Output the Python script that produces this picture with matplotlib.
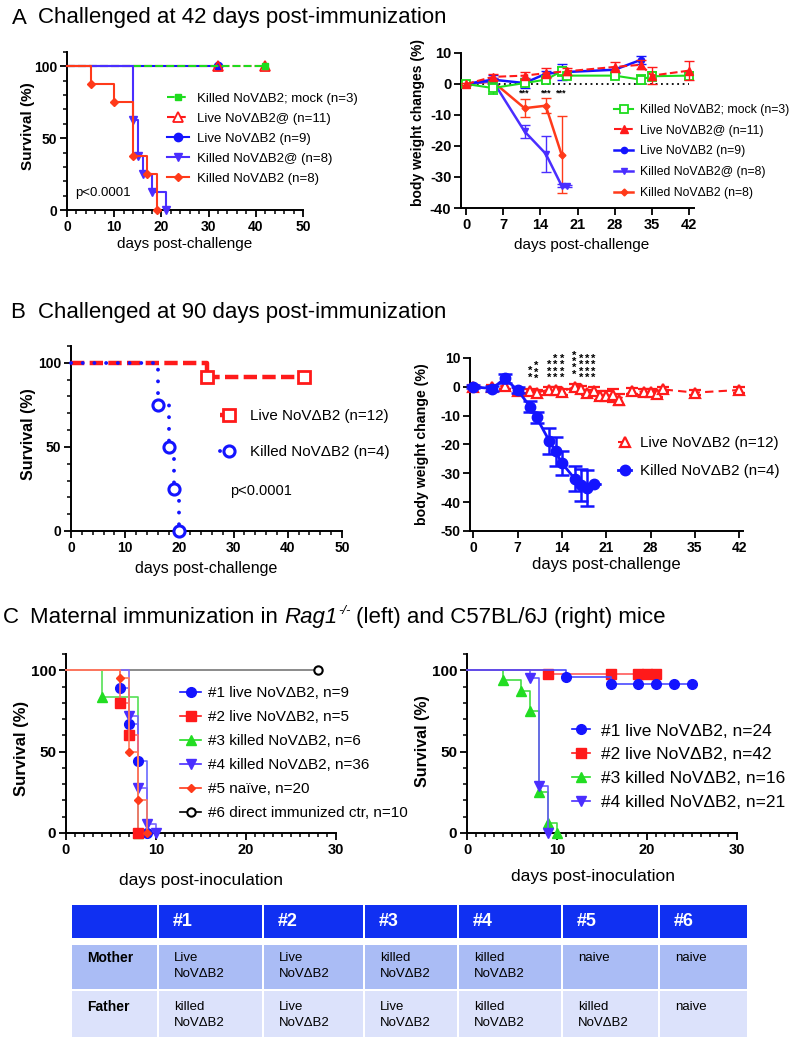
import matplotlib
matplotlib.use("Agg")
import matplotlib.pyplot as plt
from matplotlib import font_manager
from matplotlib.lines import Line2D
from matplotlib.patches import Rectangle
from matplotlib.ticker import MultipleLocator

_fonts = font_manager.fontManager.ttflist
_names = {f.name for f in _fonts}
SANS = "Liberation Sans" if "Liberation Sans" in _names else "DejaVu Sans"
NARROW = "Liberation Sans Narrow" if "Liberation Sans Narrow" in _names else None

plt.rcParams["font.family"] = [SANS, "DejaVu Sans"]
plt.rcParams["axes.unicode_minus"] = False

# ===================== DATA =====================
# Panel A (left): survival after challenge at 42 d post-immunization
a_labels = ["Killed NoVΔB2; mock (n=3)", "Live NoVΔB2@ (n=11)", "Live NoVΔB2 (n=9)",
            "Killed NoVΔB2@ (n=8)", "Killed NoVΔB2 (n=8)"]
a_mock_days = [0, 42];                 a_mock_surv = [100, 100]
a_liveat_days = [0, 32, 42];           a_liveat_surv = [100, 100, 100]
a_live_days = [0, 32];                 a_live_surv = [100, 100]
a_killat_days = [0, 14, 15, 16, 18, 21]; a_killat_surv = [100, 62.5, 37.5, 25, 12.5, 0]
a_kill_days = [0, 5, 10, 14, 17, 19];  a_kill_surv = [100, 87.5, 75, 37.5, 25, 0]

# Panel A (right): body weight changes (%)
aw_mock_days = [0, 5, 11, 15, 18, 19, 28, 33, 35, 42]
aw_mock = [0, -1.3, 0.3, 1.4, 4.1, 2.7, 2.7, 1.4, 2.5, 2.7]
aw_mock_err = [0.3, 2.0, 0.8, 1.0, 1.5, 0.8, 0.8, 1.5, 1.5, 1.2]
aw_liveat_days = [0, 5, 11, 15, 19, 28, 33, 35, 42]
aw_liveat = [0, 2.3, 2.7, 3.5, 4.1, 5.5, 6.2, 2.7, 4.3]
aw_liveat_err = [0.3, 1.0, 1.2, 1.5, 1.2, 1.5, 1.5, 2.7, 3.0]
aw_live_days = [0, 5, 11, 15, 18, 28, 33]
aw_live = [0, 1.4, 0.3, 3.3, 3.8, 4.6, 7.8]
aw_live_err = [0.3, 1.5, 1.5, 1.0, 2.6, 1.0, 1.2]
aw_killat_days = [0, 5, 11, 15, 18, 19]
aw_killat = [0, 1.0, -15.3, -22.5, -32.8, -32.8]
aw_killat_err = [0.3, 1.0, 2.2, 5.8, 0.5, 0.3]
aw_kill_days = [0, 5, 11, 15, 18]
aw_kill = [0, 0.8, -7.8, -7.0, -22.8]
aw_kill_err = [0.3, 1.0, 2.9, 2.4, 12.4]
aw_star_days = [11, 15, 18]
aw_star_level = -3.0

# Panel B (left): survival after challenge at 90 d post-immunization
b_labels = ["Live NoVΔB2 (n=12)", "Killed NoVΔB2 (n=4)"]
b_live_days = [0, 25, 43];            b_live_surv = [100, 91.7, 91.7]
b_kill_days = [0, 16, 18, 19, 20];    b_kill_surv = [100, 75, 50, 25, 0]

# Panel B (right): body weight change (%)
bw_live_days = [0, 3, 5, 7, 9, 10, 12, 13, 14, 16, 17, 18, 19, 20, 21, 22, 23, 25, 27, 28, 29, 30, 35, 42]
bw_live = [0, 0, 0.3, -1.4, -1.5, -2.0, -1.0, -1.2, -1.7, 0.0, -0.6, -2.0, -1.4, -3.1, -3.1, -2.9,
           -4.4, -1.5, -1.7, -1.7, -2.5, -0.9, -2.0, -1.1]
bw_live_err = [0.5, 0.8, 1.0, 1.0, 0.8, 1.0, 1.0, 1.0, 1.0, 1.0, 1.0, 1.0, 1.2, 1.5, 1.5, 2.3,
               2.0, 1.0, 1.0, 1.0, 1.0, 1.0, 1.0, 1.0]
bw_kill_days = [0, 3, 5, 7, 9, 10, 12, 13, 14, 16, 17, 18, 19]
bw_kill = [0, -0.6, 2.9, -1.1, -6.9, -10.6, -18.7, -22.4, -26.4, -31.8, -34.1, -35.2, -33.6]
bw_kill_err = [0.5, 0.8, 1.5, 1.0, 2.0, 2.0, 4.5, 5.0, 4.2, 4.5, 5.5, 6.3, 0.0]
bw_star_days = [9, 10, 12, 13, 14, 16, 17, 18, 19]
bw_star_count = [2, 3, 3, 4, 4, 4, 4, 4, 4]
bw_star_base = [1.5, 1.0, 1.3, 1.3, 1.3, 2.5, 1.3, 1.3, 1.3]

# Panel C (left): Rag1-/- pups
c1_labels = ["#1 live NoVΔB2, n=9", "#2 live NoVΔB2, n=5", "#3 killed NoVΔB2, n=6",
             "#4 killed NoVΔB2, n=36", "#5 naïve, n=20", "#6 direct immunized ctr, n=10"]
c1_g1_days = [0, 6, 7, 8, 9];       c1_g1_surv = [100, 88.9, 66.7, 44.4, 0]
c1_g2_days = [0, 6, 7, 8];          c1_g2_surv = [100, 80, 60, 0]
c1_g3_days = [0, 4, 8];             c1_g3_surv = [100, 83.3, 0]
c1_g4_days = [0, 7, 8, 9, 10];      c1_g4_surv = [100, 72.2, 27.8, 5.6, 0]
c1_g5_days = [0, 6, 7, 8, 9];       c1_g5_surv = [100, 95, 50, 20, 0]
c1_g6_days = [0, 28];               c1_g6_surv = [100, 100]

# Panel C (right): C57BL/6J pups
c2_labels = ["#1 live NoVΔB2, n=24", "#2 live NoVΔB2, n=42", "#3 killed NoVΔB2, n=16",
             "#4 killed NoVΔB2, n=21"]
c2_g1_days = [0, 11, 16, 19, 21, 23, 25]; c2_g1_surv = [100, 95.8, 91.7, 91.7, 91.7, 91.7, 91.7]
c2_g2_days = [0, 9, 16, 19, 20, 21];      c2_g2_surv = [100, 97.6, 97.6, 97.6, 97.6, 97.6]
c2_g3_days = [0, 4, 6, 7, 8, 9, 10];      c2_g3_surv = [100, 93.75, 87.5, 75, 25, 6.25, 0]
c2_g4_days = [0, 7, 8, 9];                c2_g4_surv = [100, 95.2, 28.6, 0]

# Table
tbl_header = ["", "#1", "#2", "#3", "#4", "#5", "#6"]
tbl_mother = ["Mother", "Live\nNoVΔB2", "Live\nNoVΔB2", "killed\nNoVΔB2", "killed\nNoVΔB2", "naive", "naive"]
tbl_father = ["Father", "killed\nNoVΔB2", "Live\nNoVΔB2", "Live\nNoVΔB2", "killed\nNoVΔB2", "killed\nNoVΔB2", "naive"]

# ===================== STYLE =====================
GREEN = "#1EDC1E"
RED = "#FF1A1A"
BLUE = "#1414FF"
PURPLE = "#4A2EFF"
ORED = "#FF3A1A"

W, H = 796, 1040
fig = plt.figure(figsize=(W / 100, H / 100), dpi=100)
fig.patch.set_facecolor("white")
renderer = fig.canvas.get_renderer()


def ax_px(l, t, r, b):
    return fig.add_axes([l / W, 1 - b / H, (r - l) / W, (b - t) / H])


def fx(x):
    return x / W


def fy(y):
    return 1 - y / H


def style(ax, xt, yt, xminor=None, yminor=None, fsx=10, fsy=10):
    for s in ("top", "right"):
        ax.spines[s].set_visible(False)
    for s in ("left", "bottom"):
        ax.spines[s].set_linewidth(1.4)
    ax.set_xticks(xt)
    ax.set_xticklabels([str(v) for v in xt], fontweight="bold", fontsize=fsx)
    ax.set_yticks(yt)
    ax.set_yticklabels([str(v) for v in yt], fontweight="bold", fontsize=fsy)
    if xminor:
        ax.xaxis.set_minor_locator(MultipleLocator(xminor))
    if yminor:
        ax.yaxis.set_minor_locator(MultipleLocator(yminor))
    ax.tick_params(which="major", direction="out", length=5, width=1.3, pad=2)
    ax.tick_params(which="minor", direction="out", length=3, width=1.1)
    ax.set_facecolor("none")


def km(ax, days, surv, color, ls="-", lw=1.5, marker="o", ms=5, mfc=None, mew=1.0,
       line_color=None, alpha=1.0, z=3, capround=False):
    ln, = ax.step(days, surv, where="post", color=line_color or color, ls=ls, lw=lw,
                  alpha=alpha, zorder=z, clip_on=False)
    if capround:
        ln.set_dash_capstyle("round")
    ax.plot(days[1:], surv[1:], ls="none", marker=marker, ms=ms, color=color,
            mfc=color if mfc is None else mfc, mew=mew, zorder=z + 0.5, clip_on=False)


def handle(color, ls="-", lw=1.5, marker="o", ms=5, mfc=None, mew=1.0, capround=False):
    h = Line2D([], [], color=color, ls=ls, lw=lw, marker=marker, ms=ms,
               mfc=color if mfc is None else mfc, mew=mew)
    if capround:
        h.set_dash_capstyle("round")
    return h


def _make_leg(ax, handles, labels, x, top, ls, fs, hl_px, text_x):
    fpx = fs * 100 / 72
    return ax.legend(handles, labels, loc="upper left",
                     bbox_to_anchor=(fx(x), fy(top)),
                     bbox_transform=fig.transFigure, frameon=False, borderpad=0,
                     borderaxespad=0, fontsize=fs, handlelength=hl_px / fpx,
                     handletextpad=(text_x - x - hl_px) / fpx, labelspacing=ls)


def _centers(leg):
    fig.canvas.draw()
    out = []
    for t in leg.get_texts():
        e = t.get_window_extent(renderer)
        out.append(H - (e.y0 + e.y1) / 2)
    return out


def legend_px(ax, handles, labels, x, y_first, pitch, fs, hl_px, text_x):
    """Legend whose rows sit at y_first, y_first+pitch, ... (figure pixels from top)."""
    fpx = fs * 100 / 72
    ls = max(pitch / fpx - 1.2, 0.05)
    top = y_first - 0.6 * fpx
    leg = _make_leg(ax, handles, labels, x, top, ls, fs, hl_px, text_x)
    c = _centers(leg)
    if len(c) > 1:
        pa = (c[-1] - c[0]) / (len(c) - 1)
        ls = max(ls + (pitch - pa) / fpx, 0.0)
        leg = _make_leg(ax, handles, labels, x, top, ls, fs, hl_px, text_x)
        c = _centers(leg)
    top += y_first - c[0]
    return _make_leg(ax, handles, labels, x, top, ls, fs, hl_px, text_x)


def ylab(x, y, s, fs):
    fig.text(fx(x), fy(y), s, rotation=90, ha="center", va="center", fontsize=fs, fontweight="bold")


def xlab(x, y, s, fs):
    fig.text(fx(x), fy(y), s, ha="center", va="center", fontsize=fs)


# ===================== TITLES =====================
fig.text(fx(12), fy(23.5), "A", fontsize=16, va="baseline")
fig.text(fx(38), fy(23.5), "Challenged at 42 days post-immunization", fontsize=16, va="baseline")
fig.text(fx(10), fy(318), "B", fontsize=16, va="baseline")
fig.text(fx(38), fy(318), "Challenged at 90 days post-immunization", fontsize=16, va="baseline")
fig.text(fx(3), fy(623), "C", fontsize=16, va="baseline")
t1 = fig.text(fx(30), fy(623), "Maternal immunization in", fontsize=16, va="baseline")
x_next = t1.get_window_extent(renderer).x1 + 6
t2 = fig.text(x_next / W, fy(623), "Rag1", fontsize=16, style="italic", va="baseline")
x_next = t2.get_window_extent(renderer).x1 + 1
t3 = fig.text(x_next / W, fy(614), "-/-", fontsize=9.5, style="italic", va="baseline")
x_next = t3.get_window_extent(renderer).x1 + 6
fig.text(x_next / W, fy(623), "(left) and C57BL/6J (right) mice", fontsize=16, va="baseline")

# ===================== PANEL A LEFT =====================
ax = ax_px(67, 52, 303, 210)
ax.set_xlim(0, 50)
ax.set_ylim(0, 110)
style(ax, [0, 10, 20, 30, 40, 50], [0, 50, 100], xminor=2, yminor=10)
km(ax, a_live_days, a_live_surv, BLUE, lw=1.5, marker="o", ms=6, z=3)
km(ax, a_liveat_days, a_liveat_surv, RED, ls="--", lw=1.5, marker="^", ms=7, mfc="none", mew=1.3, z=4)
km(ax, a_mock_days, a_mock_surv, GREEN, ls="--", lw=1.5, marker="s", ms=4, z=5)
km(ax, a_killat_days, a_killat_surv, PURPLE, lw=1.5, marker="v", ms=6, z=6)
km(ax, a_kill_days, a_kill_surv, ORED, lw=1.5, marker="D", ms=4, z=7)
hs = [handle(GREEN, "--", 1.5, "s", 4), handle(RED, "--", 1.5, "^", 7, "white", 1.3),
      handle(BLUE, "-", 1.5, "o", 6), handle(PURPLE, "-", 1.5, "v", 6), handle(ORED, "-", 1.5, "D", 4)]
legend_px(ax, hs, a_labels, 167, 99, 20, 9.5, 22, 197)
fig.text(fx(75), fy(193), "p<0.0001", fontsize=9.5, va="center")
ylab(28, 126, "Survival (%)", 11)
xlab(185, 244, "days post-challenge", 11)

# ===================== PANEL A RIGHT =====================
ax = ax_px(461, 53, 694, 208)
ax.set_xlim(-1, 43)
ax.set_ylim(-40, 10)
style(ax, [0, 7, 14, 21, 28, 35, 42], [-40, -30, -20, -10, 0, 10], fsx=10.5, fsy=10.5)
ax.hlines(0, aw_mock_days[0], aw_mock_days[-1], colors="black", linestyles=(0, (1, 2)), lw=1.3, zorder=1)
ek = dict(capsize=3.5, elinewidth=1.0, capthick=1.0, clip_on=False)
ax.errorbar(aw_kill_days, aw_kill, yerr=aw_kill_err, color=ORED, lw=1.8, marker="D", ms=3.5, zorder=3, **ek)
ax.errorbar(aw_killat_days, aw_killat, yerr=aw_killat_err, color=PURPLE, lw=1.8, marker="v", ms=5, zorder=4, **ek)
ax.errorbar(aw_live_days, aw_live, yerr=aw_live_err, color=BLUE, lw=1.8, marker="o", ms=4.5, zorder=5, **ek)
ax.errorbar(aw_mock_days, aw_mock, yerr=aw_mock_err, color=GREEN, lw=1.5, marker="s", ms=6,
            mfc="white", mew=1.3, zorder=6, **ek)
ax.errorbar(aw_liveat_days, aw_liveat, yerr=aw_liveat_err, color=RED, lw=1.5, ls="--", marker="^",
            ms=5.5, zorder=7, **ek)
for d in aw_star_days:
    ax.text(d, aw_star_level, "***", ha="center", va="center", fontsize=6.5, fontweight="bold")
hs = [handle(GREEN, "-", 1.5, "s", 6, "white", 1.3), handle(RED, "--", 1.5, "^", 5.5),
      handle(BLUE, "-", 1.8, "o", 4.5), handle(PURPLE, "-", 1.8, "v", 5), handle(ORED, "-", 1.8, "D", 3.5)]
legend_px(ax, hs, a_labels, 614, 110, 20.7, 8.8, 19, 640)
ylab(418, 123, "body weight changes (%)", 10)
xlab(582, 245, "days post-challenge", 11)

# ===================== PANEL B LEFT =====================
ax = ax_px(71, 346, 342, 531)
ax.set_xlim(0, 50)
ax.set_ylim(0, 110)
style(ax, [0, 10, 20, 30, 40, 50], [0, 50, 100], xminor=2, yminor=10)
DOTS = (0, (0.01, 3.0))
km(ax, b_live_days, b_live_surv, RED, ls=(0, (3, 1.2)), lw=3.2, marker="s", ms=8, mfc="white", mew=2.0, z=3)
km(ax, b_kill_days, b_kill_surv, BLUE, ls=DOTS, lw=2.8, marker="o", ms=8, mfc="white", mew=2.2,
   z=5, capround=True)
hs = [handle(RED, (0, (3, 1.2)), 3.2, "s", 8, "white", 2.0),
      handle(BLUE, DOTS, 2.8, "o", 8, "white", 2.2, capround=True)]
legend_px(ax, hs, b_labels, 220, 416, 36, 10.9, 18, 250)
fig.text(fx(230), fy(491), "p<0.0001", fontsize=10.5, va="center")
ylab(28, 434, "Survival (%)", 11.5)
xlab(206, 568, "days post-challenge", 11.5)

# ===================== PANEL B RIGHT =====================
ax = ax_px(470, 358, 743, 531)
ax.set_xlim(-0.5, 42.6)
ax.set_ylim(-50, 10)
style(ax, [0, 7, 14, 21, 28, 35, 42], [-50, -40, -30, -20, -10, 0, 10])
ax.errorbar(bw_live_days, bw_live, yerr=bw_live_err, color=RED, lw=1.5, ls=(0, (4, 2.5)), marker="^", ms=7,
            mfc="white", mew=1.6, capsize=4, elinewidth=1.5, capthick=1.5, zorder=3, clip_on=False)
ax.errorbar(bw_kill_days, bw_kill, yerr=bw_kill_err, color=BLUE, lw=2.0, marker="o", ms=7.5,
            capsize=5, elinewidth=1.8, capthick=1.8, zorder=4, clip_on=False)
for d, n, b in zip(bw_star_days, bw_star_count, bw_star_base):
    ax.text(d, b, "\n".join(["*"] * n), ha="center", va="bottom", fontsize=8, fontweight="bold",
            linespacing=0.55)
hs = [handle(RED, (0, (4, 2.5)), 1.5, "^", 7, "white", 1.6), handle(BLUE, "-", 2.0, "o", 7.5)]
legend_px(ax, hs, b_labels, 618, 443, 28, 10.9, 13, 640)
ylab(422, 444, "body weight change (%)", 10.2)
xlab(606, 565, "days post-challenge", 12)

# ===================== PANEL C LEFT =====================
ax = ax_px(66, 654, 336, 833)
ax.set_xlim(0, 30)
ax.set_ylim(0, 110)
style(ax, [0, 10, 20, 30], [0, 50, 100], xminor=1, yminor=10, fsx=10.5, fsy=11)
LW = 1.2
km(ax, c1_g6_days, c1_g6_surv, "black", lw=LW, marker="o", ms=6, mfc="white", mew=1.5,
   line_color="#777777", z=2)
km(ax, c1_g3_days, c1_g3_surv, "#22DD22", lw=LW, marker="^", ms=7, line_color="#55E055", z=3)
km(ax, c1_g1_days, c1_g1_surv, BLUE, lw=LW, marker="o", ms=7, line_color="#6A6AFF", z=4)
km(ax, c1_g4_days, c1_g4_surv, PURPLE, lw=LW, marker="v", ms=7, line_color="#7A66FF", z=5)
km(ax, c1_g2_days, c1_g2_surv, RED, lw=LW, marker="s", ms=7, line_color="#FF6A6A", z=6)
km(ax, c1_g5_days, c1_g5_surv, ORED, lw=LW, marker="D", ms=4.5, line_color="#FF7A5A", z=7)
hs = [handle(BLUE, "-", LW, "o", 7), handle(RED, "-", LW, "s", 7), handle("#22DD22", "-", LW, "^", 7),
      handle(PURPLE, "-", LW, "v", 7), handle(ORED, "-", LW, "D", 4.5),
      handle("black", "-", LW, "o", 6, "white", 1.5)]
legend_px(ax, hs, c1_labels, 180, 693, 24, 11, 21, 208)
ylab(22, 748, "Survival (%)", 12)
xlab(201, 880, "days post-inoculation", 12.5)

# ===================== PANEL C RIGHT =====================
ax = ax_px(467, 654, 737, 833)
ax.set_xlim(0, 30)
ax.set_ylim(0, 110)
style(ax, [0, 10, 20, 30], [0, 50, 100], xminor=1, yminor=10, fsx=10.5, fsy=11)
km(ax, c2_g3_days, c2_g3_surv, "#22DD22", lw=LW, marker="^", ms=7, line_color="#44DD44", z=3)
km(ax, c2_g4_days, c2_g4_surv, PURPLE, lw=LW, marker="v", ms=7, line_color="#6A5AFF", z=4)
km(ax, c2_g2_days, c2_g2_surv, RED, lw=LW, marker="s", ms=7, line_color="#FF5A5A", z=5)
km(ax, c2_g1_days, c2_g1_surv, BLUE, lw=LW, marker="o", ms=7, line_color="#4A4AFF", z=6)
hs = [handle(BLUE, "-", LW, "o", 7), handle(RED, "-", LW, "s", 7), handle("#22DD22", "-", LW, "^", 7),
      handle(PURPLE, "-", LW, "v", 7)]
legend_px(ax, hs, c2_labels, 572, 731, 23.7, 12.5, 18, 601)
ylab(423, 741, "Survival (%)", 11.5)
xlab(593, 877, "days post-inoculation", 12.5)

# ===================== TABLE =====================
tax = fig.add_axes([0, 0, 1, 1], zorder=-1)
tax.set_xlim(0, W)
tax.set_ylim(H, 0)
tax.axis("off")
col_l = [72, 159, 264, 365, 459, 563, 660]
col_r = [157, 262, 363, 457, 561, 658, 747]
rows = [(905, 938, "#1030F2"), (945, 989, "#AABCF5"), (991, 1037, "#DCE2FB")]
for (t, b, c) in rows:
    for l, r in zip(col_l, col_r):
        tax.add_patch(Rectangle((l, t), r - l, b - t, facecolor=c, edgecolor="none"))
for i, lab in enumerate(tbl_header):
    if lab:
        tax.text(col_l[i] + 14, 922, lab, color="white", fontsize=13, fontweight="bold",
                 ha="left", va="center")
if NARROW:
    body_kw = dict(family=[NARROW, SANS, "DejaVu Sans"], fontsize=11.5)
    head_kw = dict(family=[NARROW, SANS, "DejaVu Sans"], fontsize=12, fontweight="bold")
else:
    body_kw = dict(fontsize=9.5)
    head_kw = dict(fontsize=10, fontweight="bold")
for row, y0 in ((tbl_mother, 958), (tbl_father, 1007)):
    for i, cell in enumerate(row):
        for k, line in enumerate(cell.split("\n")):
            kw = head_kw if i == 0 else body_kw
            tax.text(col_l[i] + 15, y0 + 16 * k, line, ha="left", va="center", **kw)

fig.savefig("out.png", dpi=100)
